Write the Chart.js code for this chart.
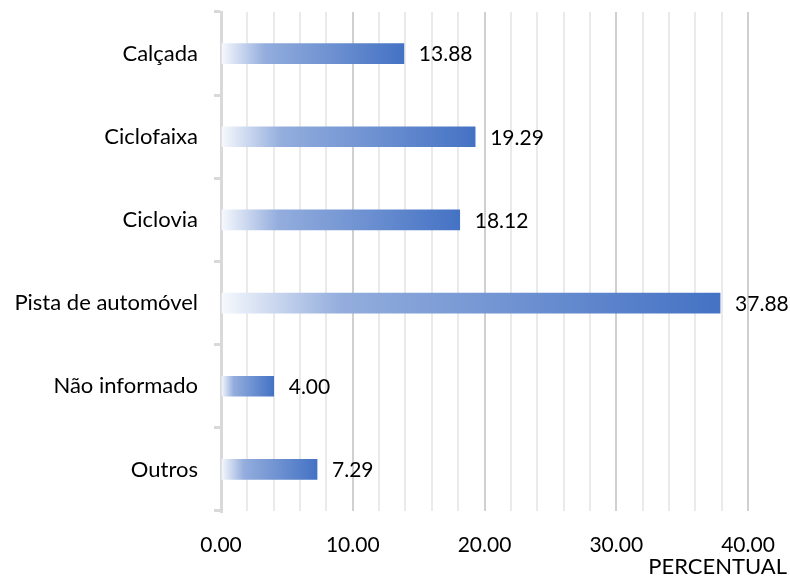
<!DOCTYPE html>
<html>
<head>
<meta charset="utf-8">
<script src="https://cdn.jsdelivr.net/npm/chart.js@4/dist/chart.umd.min.js"></script>
<style>
  html, body { margin: 0; padding: 0; background: #fff; }
  #wrap { width: 790px; height: 576px; position: relative; }
</style>
</head>
<body>
<div id="wrap"><canvas id="c" width="790" height="576"></canvas></div>
<script>
const categories = ['Calçada', 'Ciclofaixa', 'Ciclovia', 'Pista de automóvel', 'Não informado', 'Outros'];
const values = [13.88, 19.29, 18.12, 37.88, 4.00, 7.29];
const axisTitle = 'PERCENTUAL';
const xMin = 0, xMax = 40, xStep = 2, xLabelStep = 10;

const FONT = 'Lato, "Open Sans", sans-serif';
const FS = 22;
const FS_NUM = 21;

function barGradient(ctx) {
  const chart = ctx.chart;
  const xs = chart.scales && chart.scales.x;
  if (!xs || ctx.type !== 'data' || !chart.chartArea) return '#4472C4';
  const x0 = xs.getPixelForValue(0);
  const x1 = xs.getPixelForValue(values[ctx.dataIndex]);
  const g = chart.ctx.createLinearGradient(x0, 0, x1, 0);
  g.addColorStop(0, '#F7F9FD');
  g.addColorStop(0.24, '#93ADDD');
  g.addColorStop(1, '#4472C4');
  return g;
}

const valueLabels = {
  id: 'valueLabels',
  afterDatasetsDraw(chart) {
    const c = chart.ctx;
    const meta = chart.getDatasetMeta(0);
    c.save();
    c.font = FS_NUM + 'px ' + FONT;
    c.fillStyle = '#000';
    c.textAlign = 'left';
    c.textBaseline = 'middle';
    meta.data.forEach((el, i) => {
      c.fillText(values[i].toFixed(2), el.x + 15, el.y + 1);
    });
    c.restore();
  }
};

const cornerTitle = {
  id: 'cornerTitle',
  afterDraw(chart) {
    const c = chart.ctx;
    const xs = chart.scales.x;
    c.save();
    c.font = FS + 'px ' + FONT;
    c.fillStyle = '#000';
    c.textAlign = 'right';
    c.textBaseline = 'alphabetic';
    c.fillText(axisTitle, xs.right + 39, 574);
    c.restore();
  }
};

new Chart(document.getElementById('c'), {
  type: 'bar',
  data: {
    labels: categories,
    datasets: [{
      data: values,
      backgroundColor: barGradient,
      borderWidth: 0,
      barThickness: 20,
      categoryPercentage: 1,
      barPercentage: 0.25
    }]
  },
  options: {
    indexAxis: 'y',
    responsive: false,
    animation: false,
    events: [],
    layout: { padding: { top: 12, right: 42, left: 0, bottom: 0 } },
    plugins: { legend: { display: false }, tooltip: { enabled: false } },
    scales: {
      x: {
        min: xMin, max: xMax,
        afterFit(scale) { scale.height = 65; scale.paddingLeft = 0; scale.paddingRight = 0; },
        border: { display: false },
        grid: {
          drawTicks: false,
          lineWidth: 2,
          color: (ctx) => (ctx.tick && ctx.tick.value % xLabelStep === 0) ? '#D0D0D0' : '#EAEAEA'
        },
        ticks: {
          stepSize: xStep,
          autoSkip: false,
          maxRotation: 0,
          padding: 22,
          color: '#000',
          font: { family: FONT, size: FS_NUM },
          callback: (v) => (v % xLabelStep === 0) ? Number(v).toFixed(2) : ''
        }
      },
      y: {
        afterFit(scale) { scale.width = 221; scale.paddingTop = 0; scale.paddingBottom = 0; },
        border: { display: true, color: '#D9D9D9', width: 3 },
        grid: {
          offset: true,
          drawOnChartArea: false,
          drawTicks: true,
          tickLength: 7,
          color: '#D9D9D9',
          lineWidth: 3
        },
        ticks: {
          padding: 16,
          color: '#000',
          font: { family: FONT, size: FS }
        }
      }
    }
  },
  plugins: [valueLabels, cornerTitle]
});
</script>
</body>
</html>
